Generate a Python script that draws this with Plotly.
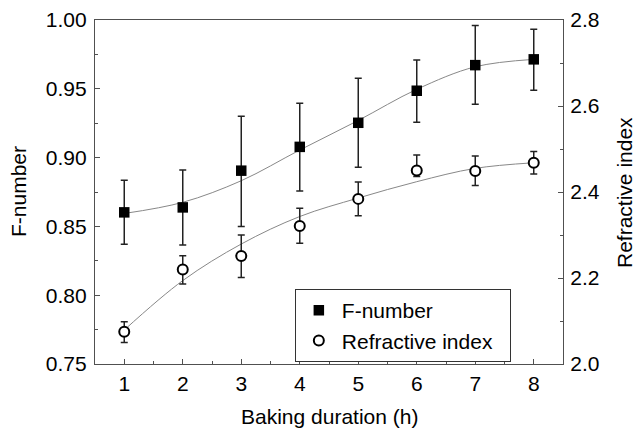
import plotly.graph_objects as go

# Data
hours = [1, 2, 3, 4, 5, 6, 7, 8]
f_number = [0.8602, 0.8638, 0.8905, 0.9078, 0.9253, 0.9486, 0.9672, 0.9714]
f_err_plus = [0.0233, 0.0272, 0.0395, 0.0317, 0.0323, 0.0224, 0.0288, 0.0218]
f_err_minus = [0.0232, 0.0273, 0.0405, 0.0321, 0.0323, 0.0229, 0.0285, 0.0224]
f_fit = [0.8594, 0.8675, 0.8832, 0.9055, 0.9270, 0.9496, 0.9660, 0.9714]

refr = [2.075, 2.220, 2.251, 2.321, 2.384, 2.450, 2.449, 2.468]
r_err_plus = [0.023, 0.032, 0.049, 0.041, 0.039, 0.036, 0.035, 0.026]
r_err_minus = [0.025, 0.034, 0.050, 0.040, 0.039, 0.014, 0.034, 0.026]
r_fit = [2.079, 2.194, 2.279, 2.343, 2.386, 2.424, 2.455, 2.468]

x_title = "Baking duration (h)"
y_title = "F-number"
y2_title = "Refractive index"

FONT = "Liberation Sans, Arial, sans-serif"
AX = "#505050"
FS = 21

fig = go.Figure()

fig.add_trace(go.Scatter(x=hours, y=f_fit, mode="lines", line=dict(color="#888888", width=1, shape="spline"),
                         showlegend=False, hoverinfo="skip"))
fig.add_trace(go.Scatter(x=hours, y=r_fit, mode="lines", line=dict(color="#888888", width=1, shape="spline"),
                         showlegend=False, hoverinfo="skip", yaxis="y2"))

fig.add_trace(go.Scatter(
    x=hours, y=f_number, mode="markers", name="F-number",
    marker=dict(symbol="square", size=10.5, color="black", line=dict(width=0)),
    error_y=dict(type="data", symmetric=False, array=f_err_plus, arrayminus=f_err_minus,
                 color="#222222", thickness=1.5, width=3.5),
))
fig.add_trace(go.Scatter(
    x=hours, y=refr, mode="markers", name="Refractive index\u00a0\u00a0", yaxis="y2",
    marker=dict(symbol="circle", size=10, color="white", line=dict(width=2, color="black")),
    error_y=dict(type="data", symmetric=False, array=r_err_plus, arrayminus=r_err_minus,
                 color="#222222", thickness=1.5, width=3.5),
))

axis_common = dict(showgrid=False, zeroline=False, showline=True, linecolor=AX, linewidth=1.3,
                   ticks="inside", ticklen=5, tickcolor=AX, tickwidth=1.2, automargin=False,
                   tickfont=dict(family=FONT, size=FS, color="black"))

title_font = dict(family=FONT, size=FS, color="black")
annotations = [
    dict(text=x_title, xref="paper", yref="paper", x=0.5, y=-0.154, showarrow=False,
         xanchor="center", yanchor="middle", font=title_font),
    dict(text=y_title, xref="paper", yref="paper", x=-0.1645, y=0.5, showarrow=False,
         xanchor="center", yanchor="middle", textangle=-90, font=title_font),
    dict(text=y2_title, xref="paper", yref="paper", x=1.1303, y=0.5, showarrow=False,
         xanchor="center", yanchor="middle", textangle=-90, font=title_font),
]

fig.update_layout(
    width=638, height=429,
    margin=dict(l=95, r=75, t=20, b=65),
    plot_bgcolor="white", paper_bgcolor="white",
    font=dict(family=FONT, size=FS, color="black"),
    xaxis=dict(range=[0.5, 8.5], dtick=1, tick0=1, mirror=True, ticklabelstandoff=1,
               minor=dict(dtick=0.5, tick0=0.5, ticks="inside", ticklen=3, tickcolor=AX),
               **axis_common),
    yaxis=dict(range=[0.75, 1.0], dtick=0.05, tick0=0.75, tickformat=".2f", ticklabelstandoff=3,
               minor=dict(dtick=0.025, tick0=0.75, ticks="inside", ticklen=3, tickcolor=AX),
               **axis_common),
    yaxis2=dict(range=[2.0, 2.8], dtick=0.2, tick0=2.0, tickformat=".1f", overlaying="y", side="right",
                ticklabelstandoff=2,
                minor=dict(dtick=0.1, tick0=2.0, ticks="inside", ticklen=3, tickcolor=AX),
                **axis_common),
    annotations=annotations,
    legend=dict(x=0.427, y=0.218, xanchor="left", yanchor="top",
                bordercolor="#333333", borderwidth=1, bgcolor="white",
                font=dict(family=FONT, size=FS, color="black"), itemwidth=36,
                tracegroupgap=0),
)

fig.write_html("out.html")
